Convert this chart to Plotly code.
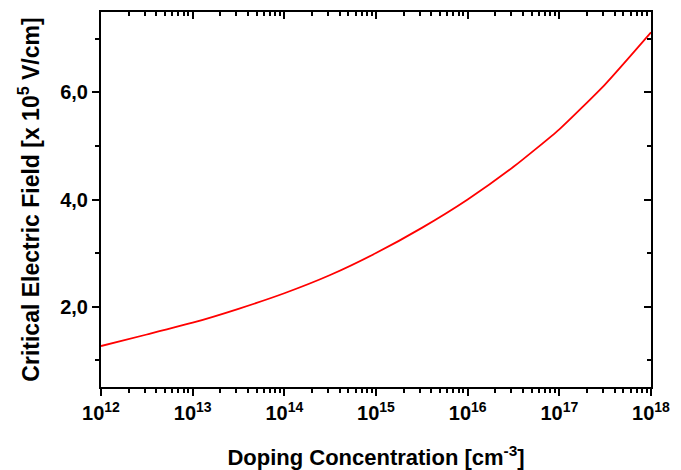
import plotly.graph_objects as go

# Data
doping = [1e12, 10**12.5, 1e13, 10**13.5, 1e14, 10**14.5, 1e15, 10**15.5,
          1e16, 10**16.5, 1e17, 10**17.5, 1e18]
field = [1.265, 1.48, 1.70, 1.96, 2.25, 2.59, 3.00, 3.47, 4.00, 4.61, 5.31, 6.15, 7.12]

x_tickvals = [1e12, 1e13, 1e14, 1e15, 1e16, 1e17, 1e18]
x_ticktext = ["10<sup>12</sup>", "10<sup>13</sup>", "10<sup>14</sup>", "10<sup>15</sup>",
              "10<sup>16</sup>", "10<sup>17</sup>", "10<sup>18</sup>"]
y_tickvals = [2, 4, 6]
y_ticktext = ["2,0", "4,0", "6,0"]
y_minor = [1, 3, 5, 7]

FONT = "Liberation Sans, Arial, sans-serif"

fig = go.Figure()
fig.add_trace(go.Scatter(x=doping, y=field, mode="lines",
                         line=dict(color="#ff0000", width=1.8, shape="spline", smoothing=0.5),
                         showlegend=False))
fig.add_trace(go.Scatter(x=[], y=[], xaxis="x2", yaxis="y2", showlegend=False))

axis_common = dict(showline=True, linecolor="black", linewidth=2, showgrid=False,
                   zeroline=False, tickcolor="black", tickwidth=2, automargin=False)

fig.update_layout(
    width=673, height=462,
    margin=dict(l=93, r=30, t=4, b=83),
    paper_bgcolor="white", plot_bgcolor="white",
    font=dict(family=FONT, color="black"),
    xaxis=dict(type="log", range=[12, 18], tickvals=x_tickvals, ticktext=x_ticktext,
               ticks="outside", ticklen=7,
               tickfont=dict(size=20, weight="bold", family=FONT),
               minor=dict(ticks="outside", ticklen=4, dtick="D1", tickwidth=2, tickcolor="black"),
               title=dict(text="Doping Concentration [cm<sup>-3</sup>]",
                          font=dict(size=22, weight="bold", family=FONT), standoff=28),
               **axis_common),
    yaxis=dict(range=[0.5, 7.5], tickvals=y_tickvals, ticktext=y_ticktext,
               ticks="outside", ticklen=7,
               tickfont=dict(size=20, weight="bold", family=FONT),
               minor=dict(ticks="outside", ticklen=4, tickvals=y_minor, tickwidth=2, tickcolor="black"),
               title=dict(text="Critical Electric Field [x 10<sup>5</sup> V/cm]",
                          font=dict(size=23, weight="bold", family=FONT), standoff=14),
               **axis_common),
    xaxis2=dict(type="log", range=[12, 18], overlaying="x", side="top", anchor="y",
                tickvals=x_tickvals, showticklabels=False, ticks="inside", ticklen=7,
                minor=dict(ticks="inside", ticklen=4, dtick="D1", tickwidth=2, tickcolor="black"),
                **axis_common),
    yaxis2=dict(range=[0.5, 7.5], overlaying="y", side="right", anchor="x",
                tickvals=y_tickvals, showticklabels=False, ticks="inside", ticklen=7,
                minor=dict(ticks="inside", ticklen=4, tickvals=y_minor, tickwidth=2, tickcolor="black"),
                **axis_common),
)

fig.write_html("out.html")
